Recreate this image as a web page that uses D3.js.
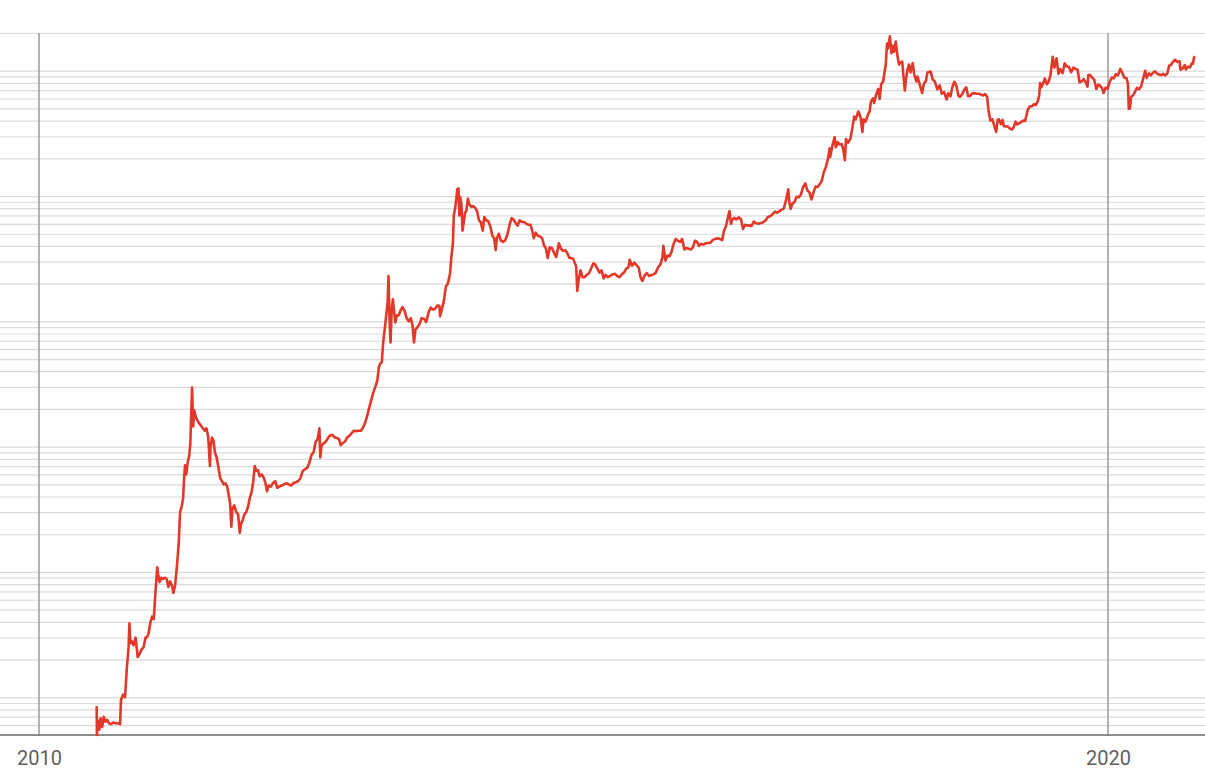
<!DOCTYPE html>
<html>
<head>
<meta charset="utf-8">
<script src="https://cdn.jsdelivr.net/npm/d3@7"></script>
<style>
  html, body { margin: 0; padding: 0; background: #fff; }
  #chart { width: 1205px; height: 782px; }
</style>
</head>
<body>
<div id="chart"></div>
<script>
// Closing price (USD), [date, price]
const prices2010 = [
  ["2010-07-17",0.085],["2010-07-18",0.05],["2010-07-22",0.065],["2010-07-26",0.055],["2010-07-30",0.068],
  ["2010-08-05",0.058],["2010-08-10",0.07],["2010-08-16",0.064],["2010-08-22",0.066],["2010-08-28",0.062],
  ["2010-09-04",0.061],["2010-09-12",0.063],["2010-09-20",0.062],["2010-09-28",0.062],["2010-10-05",0.061],
  ["2010-10-08",0.095],["2010-10-15",0.105],["2010-10-22",0.1],["2010-10-28",0.17],["2010-11-03",0.25],
  ["2010-11-06",0.39],["2010-11-09",0.27],["2010-11-14",0.28],["2010-11-20",0.26],["2010-11-27",0.3],
  ["2010-12-04",0.21],["2010-12-10",0.22],["2010-12-17",0.24],["2010-12-24",0.25],["2010-12-31",0.3]
];
const prices2011 = [
  ["2011-01-04",0.30],["2011-01-10",0.32],["2011-01-16",0.39],["2011-01-22",0.44],["2011-01-28",0.42],
  ["2011-02-03",0.70],["2011-02-09",1.09],["2011-02-12",0.95],["2011-02-17",0.83],["2011-02-23",0.90],
  ["2011-03-01",0.88],["2011-03-07",0.90],["2011-03-13",0.88],["2011-03-19",0.76],["2011-03-25",0.84],
  ["2011-04-01",0.77],["2011-04-05",0.68],["2011-04-11",0.78],["2011-04-17",1.10],["2011-04-23",1.65],
  ["2011-04-28",3.0],["2011-05-03",3.3],["2011-05-08",3.8],["2011-05-12",5.8],["2011-05-15",7.1],
  ["2011-05-19",6.0],["2011-05-24",7.5],["2011-05-29",8.4],["2011-06-02",10.6],["2011-06-05",18.5],
  ["2011-06-08",29.6],["2011-06-10",20],["2011-06-12",14.5],["2011-06-15",19.5],["2011-06-20",17.5],
  ["2011-06-26",16.2],["2011-07-02",15.4],["2011-07-09",14.6],["2011-07-16",13.9],["2011-07-21",13.4],
  ["2011-07-27",14.0],["2011-08-02",12.0],["2011-08-08",7.0],["2011-08-10",10.0],["2011-08-15",11.8],
  ["2011-08-20",11.2],["2011-08-25",9.0],["2011-08-31",8.2],["2011-09-06",6.8],["2011-09-12",5.6],
  ["2011-09-18",5.3],["2011-09-24",5.0],["2011-09-30",5.1],["2011-10-06",4.8],["2011-10-12",4.0],
  ["2011-10-16",3.5],["2011-10-20",2.3],["2011-10-24",3.2],["2011-10-30",3.4],["2011-11-06",3.0],
  ["2011-11-12",2.9],["2011-11-18",2.05],["2011-11-22",2.4],["2011-11-28",2.6],["2011-12-04",2.9],
  ["2011-12-10",3.0],["2011-12-16",3.3],["2011-12-22",3.9],["2011-12-28",4.3]
];
const prices2012 = [
  ["2012-01-03",5.3],["2012-01-08",7.0],["2012-01-13",6.4],["2012-01-19",6.5],["2012-01-25",5.8],
  ["2012-02-01",6.0],["2012-02-07",5.7],["2012-02-13",5.2],["2012-02-19",4.4],["2012-02-25",4.9],
  ["2012-03-03",4.8],["2012-03-10",5.1],["2012-03-18",5.3],["2012-03-25",4.7],["2012-04-01",4.8],
  ["2012-04-09",4.9],["2012-04-17",5.0],["2012-04-25",5.1],["2012-05-03",5.0],["2012-05-11",4.9],
  ["2012-05-19",5.1],["2012-05-27",5.2],["2012-06-04",5.3],["2012-06-12",5.6],["2012-06-20",6.4],
  ["2012-06-28",6.6],["2012-07-06",6.8],["2012-07-14",7.6],["2012-07-20",8.6],["2012-07-27",9.0],
  ["2012-08-03",10.9],["2012-08-10",11.5],["2012-08-16",14.0],["2012-08-19",8.2],["2012-08-23",10.2],
  ["2012-08-30",10.6],["2012-09-07",11.0],["2012-09-15",11.8],["2012-09-22",12.3],["2012-09-29",12.4],
  ["2012-10-07",11.9],["2012-10-15",11.7],["2012-10-22",11.5],["2012-10-28",10.3],["2012-11-04",10.7],
  ["2012-11-12",11.0],["2012-11-18",11.8],["2012-11-26",12.2],["2012-12-04",12.8],["2012-12-12",13.4],
  ["2012-12-20",13.3],["2012-12-28",13.4]
];
const prices2013 = [
  ["2013-01-05",13.4],["2013-01-12",14.2],["2013-01-19",15.5],["2013-01-26",17.5],["2013-02-02",20.4],
  ["2013-02-09",23.5],["2013-02-16",27],["2013-02-23",30],["2013-03-02",34],["2013-03-07",43],
  ["2013-03-12",46],["2013-03-17",47],["2013-03-22",69],["2013-03-28",90],["2013-04-02",117],
  ["2013-04-06",143],["2013-04-09",230],["2013-04-12",110],["2013-04-16",68],["2013-04-20",127],
  ["2013-04-24",150],["2013-04-27",128],["2013-05-02",98],["2013-05-08",112],["2013-05-14",112],
  ["2013-05-20",122],["2013-05-27",130],["2013-06-03",121],["2013-06-10",106],["2013-06-17",100],
  ["2013-06-24",106],["2013-06-30",93],["2013-07-05",68],["2013-07-10",86],["2013-07-17",90],
  ["2013-07-24",95],["2013-07-31",106],["2013-08-08",105],["2013-08-16",99],["2013-08-24",118],
  ["2013-08-31",129],["2013-09-07",124],["2013-09-15",126],["2013-09-23",134],["2013-09-30",133],
  ["2013-10-02",110],["2013-10-08",124],["2013-10-15",145],["2013-10-22",190],["2013-10-29",200],
  ["2013-11-05",240],["2013-11-10",330],["2013-11-15",420],["2013-11-18",700],["2013-11-22",780],
  ["2013-11-26",920],["2013-11-30",1130],["2013-12-04",1150],["2013-12-07",700],["2013-12-10",980],
  ["2013-12-14",870],["2013-12-18",530],["2013-12-22",620],["2013-12-27",740],["2013-12-31",760]
];
const prices2014 = [
  ["2014-01-05",950],["2014-01-10",860],["2014-01-17",820],["2014-01-24",830],["2014-01-31",800],
  ["2014-02-06",750],["2014-02-12",640],["2014-02-18",620],["2014-02-25",530],["2014-03-02",680],
  ["2014-03-09",640],["2014-03-16",630],["2014-03-23",570],["2014-03-30",480],["2014-04-05",460],
  ["2014-04-10",370],["2014-04-14",460],["2014-04-21",500],["2014-04-28",440],["2014-05-05",430],
  ["2014-05-12",440],["2014-05-20",490],["2014-05-27",580],["2014-06-03",665],["2014-06-10",650],
  ["2014-06-17",610],["2014-06-24",580],["2014-07-01",640],["2014-07-08",620],["2014-07-16",620],
  ["2014-07-24",600],["2014-07-31",590],["2014-08-07",590],["2014-08-14",520],["2014-08-18",460],
  ["2014-08-25",510],["2014-09-02",480],["2014-09-09",475],["2014-09-16",460],["2014-09-22",405],
  ["2014-09-29",380],["2014-10-05",320],["2014-10-12",390],["2014-10-19",385],["2014-10-26",355],
  ["2014-11-03",325],["2014-11-12",420],["2014-11-19",380],["2014-11-26",365],["2014-12-04",370],
  ["2014-12-11",350],["2014-12-18",320],["2014-12-25",320],["2014-12-31",315]
];
const prices2015 = [
  ["2015-01-06",290],["2015-01-10",275],["2015-01-14",175],["2015-01-18",210],["2015-01-25",255],
  ["2015-02-01",225],["2015-02-08",225],["2015-02-15",235],["2015-02-22",240],["2015-03-01",260],
  ["2015-03-10",290],["2015-03-16",285],["2015-03-23",265],["2015-03-31",245],["2015-04-07",255],
  ["2015-04-14",220],["2015-04-21",235],["2015-04-28",225],["2015-05-06",230],["2015-05-14",237],
  ["2015-05-22",240],["2015-05-30",230],["2015-06-07",225],["2015-06-15",237],["2015-06-23",245],
  ["2015-06-30",263],["2015-07-08",270],["2015-07-12",310],["2015-07-20",278],["2015-07-28",294],
  ["2015-08-05",280],["2015-08-12",266],["2015-08-18",225],["2015-08-24",210],["2015-08-31",230],
  ["2015-09-08",243],["2015-09-16",230],["2015-09-24",234],["2015-10-01",237],["2015-10-09",244],
  ["2015-10-17",270],["2015-10-25",285],["2015-11-01",325],["2015-11-04",400],["2015-11-11",305],
  ["2015-11-18",335],["2015-11-25",330],["2015-12-02",360],["2015-12-09",415],["2015-12-16",455],
  ["2015-12-23",440],["2015-12-31",430]
];
const prices2016 = [
  ["2016-01-07",455],["2016-01-15",375],["2016-01-22",385],["2016-01-29",380],["2016-02-06",375],
  ["2016-02-13",390],["2016-02-20",440],["2016-02-27",430],["2016-03-05",400],["2016-03-12",415],
  ["2016-03-20",410],["2016-03-28",420],["2016-04-05",422],["2016-04-13",425],["2016-04-21",447],
  ["2016-04-29",455],["2016-05-07",460],["2016-05-15",455],["2016-05-23",445],["2016-05-29",525],
  ["2016-06-05",575],["2016-06-12",680],["2016-06-17",760],["2016-06-22",600],["2016-06-27",650],
  ["2016-07-04",670],["2016-07-10",650],["2016-07-18",675],["2016-07-26",655],["2016-08-02",545],
  ["2016-08-09",590],["2016-08-16",580],["2016-08-23",585],["2016-08-31",575],["2016-09-08",625],
  ["2016-09-16",607],["2016-09-24",602],["2016-10-02",610],["2016-10-10",618],["2016-10-18",638],
  ["2016-10-26",680],["2016-11-03",690],["2016-11-11",715],["2016-11-19",750],["2016-11-27",735],
  ["2016-12-05",760],["2016-12-13",780],["2016-12-20",800],["2016-12-27",930]
];
const prices2017 = [
  ["2017-01-04",1130],["2017-01-07",895],["2017-01-12",790],["2017-01-18",870],["2017-01-25",895],
  ["2017-02-01",985],["2017-02-09",980],["2017-02-16",1030],["2017-02-23",1170],["2017-03-03",1260],
  ["2017-03-10",1110],["2017-03-17",1070],["2017-03-24",940],["2017-03-31",1070],["2017-04-07",1190],
  ["2017-04-14",1180],["2017-04-21",1240],["2017-04-28",1320],["2017-05-05",1550],["2017-05-12",1700],
  ["2017-05-19",1960],["2017-05-25",2400],["2017-05-27",2050],["2017-06-03",2500],["2017-06-11",2950],
  ["2017-06-15",2450],["2017-06-21",2700],["2017-06-28",2580],["2017-07-05",2600],["2017-07-10",2400],
  ["2017-07-16",1930],["2017-07-20",2850],["2017-07-27",2670],["2017-08-04",2860],["2017-08-10",3420],
  ["2017-08-17",4300],["2017-08-22",4090],["2017-08-31",4730],["2017-09-03",4580],["2017-09-08",4230],
  ["2017-09-14",3240],["2017-09-18",4100],["2017-09-25",3930],["2017-10-02",4400],["2017-10-09",4780],
  ["2017-10-13",5650],["2017-10-20",6010],["2017-10-24",5520],["2017-10-31",6450],["2017-11-07",7140],
  ["2017-11-12",5950],["2017-11-17",7790],["2017-11-24",8250],["2017-11-29",9890],["2017-12-03",11300],
  ["2017-12-07",16500],["2017-12-10",15000],["2017-12-17",18800],["2017-12-22",13800],["2017-12-27",15800],
  ["2017-12-31",14150]
];
const prices2018 = [
  ["2018-01-06",17100],["2018-01-11",13400],["2018-01-17",11200],["2018-01-21",11600],["2018-01-28",11800],
  ["2018-02-01",9200],["2018-02-06",6950],["2018-02-10",8600],["2018-02-15",10200],["2018-02-20",11200],
  ["2018-02-25",9700],["2018-03-05",11500],["2018-03-10",9300],["2018-03-18",8200],["2018-03-21",9000],
  ["2018-03-28",7900],["2018-04-06",6640],["2018-04-12",7900],["2018-04-19",8250],["2018-04-24",9660],
  ["2018-05-05",9850],["2018-05-12",8500],["2018-05-19",8250],["2018-05-28",7100],["2018-06-05",7630],
  ["2018-06-12",6550],["2018-06-20",6750],["2018-06-29",5900],["2018-07-04",6600],["2018-07-12",6250],
  ["2018-07-18",7370],["2018-07-25",8170],["2018-08-01",7600],["2018-08-08",6300],["2018-08-14",6200],
  ["2018-08-21",6500],["2018-08-28",7050],["2018-09-04",7350],["2018-09-10",6250],["2018-09-17",6300],
  ["2018-09-24",6600],["2018-10-01",6600],["2018-10-10",6550],["2018-10-17",6550],["2018-10-24",6450],
  ["2018-10-31",6350],["2018-11-07",6500],["2018-11-14",6200],["2018-11-19",4800],["2018-11-25",4000],
  ["2018-12-02",4100],["2018-12-09",3600],["2018-12-15",3250],["2018-12-20",4050],["2018-12-24",4100],
  ["2018-12-31",3750]
];
const prices2019 = [
  ["2019-01-06",4050],["2019-01-10",3600],["2019-01-17",3600],["2019-01-24",3580],["2019-01-31",3450],
  ["2019-02-07",3400],["2019-02-14",3590],["2019-02-19",3920],["2019-02-24",3730],["2019-03-03",3800],
  ["2019-03-10",3900],["2019-03-17",4000],["2019-03-24",3980],["2019-04-02",4880],["2019-04-09",5200],
  ["2019-04-16",5200],["2019-04-23",5400],["2019-04-30",5320],["2019-05-07",5800],["2019-05-11",6350],
  ["2019-05-14",7990],["2019-05-17",7360],["2019-05-22",7650],["2019-05-30",8660],["2019-06-06",7800],
  ["2019-06-12",8160],["2019-06-18",9080],["2019-06-22",10700],["2019-06-26",12930],["2019-07-02",10580],
  ["2019-07-09",12560],["2019-07-16",9430],["2019-07-22",10300],["2019-07-30",9580],["2019-08-06",11460],
  ["2019-08-13",10800],["2019-08-20",10760],["2019-08-28",9720],["2019-09-05",10600],["2019-09-12",10350],
  ["2019-09-19",10200],["2019-09-26",8060],["2019-10-03",8230],["2019-10-10",8580],["2019-10-17",8070],
  ["2019-10-23",7460],["2019-10-26",9250],["2019-11-01",9260],["2019-11-08",8800],["2019-11-15",8470],
  ["2019-11-22",7150],["2019-11-29",7740],["2019-12-06",7550],["2019-12-12",7200],["2019-12-17",6640],
  ["2019-12-24",7320],["2019-12-31",7190]
];
const prices2020 = [
  ["2020-01-07",8160],["2020-01-14",8830],["2020-01-21",8680],["2020-01-28",9390],["2020-02-04",9180],
  ["2020-02-12",10330],["2020-02-19",9600],["2020-02-26",8780],["2020-03-04",8760],["2020-03-09",7900],
  ["2020-03-12",4970],["2020-03-16",5000],["2020-03-20",6190],["2020-03-27",6370],["2020-04-02",6790],
  ["2020-04-09",7300],["2020-04-16",7110],["2020-04-23",7480],["2020-04-30",8660],["2020-05-07",9980],
  ["2020-05-12",8800],["2020-05-20",9520],["2020-05-27",9190],["2020-06-03",9670],["2020-06-10",9890],
  ["2020-06-17",9460],["2020-06-24",9310],["2020-07-01",9230],["2020-07-08",9430],["2020-07-15",9190],
  ["2020-07-22",9540],["2020-07-28",10990],["2020-08-02",11060],["2020-08-09",11680],["2020-08-17",12250],
  ["2020-08-24",11760],["2020-09-01",11920],["2020-09-05",10170],["2020-09-12",10450],["2020-09-19",11080],
  ["2020-09-23",10230],["2020-09-30",10790],["2020-10-07",10600],["2020-10-13",11430],["2020-10-17",11360],
  ["2020-10-21",12820],["2020-10-24",13030]
];

// axis labels / extents
const yearTicks = ["2010-01-01", "2020-01-01"];
const yExtent = [0.05, 20000];
const gridDecades = [0.01, 0.1, 1, 10, 100, 1000, 10000];


class PriceChart {

  constructor(divId) {
    this.width = 1205;
    this.height = 782;
    this.top = 33;
    this.bottom = 735;
    this.divId = divId;

    this.svg = d3
      .select(this.divId)
      .append("svg")
      .attr("width", this.width)
      .attr("height", this.height);
  }

  draw(series) {
    const parse = d3.timeParse("%Y-%m-%d");

    // SCALES =======================================
    // 2010 sits at x=39, 2020 at x=1108; the scale runs past both sides
    const xScale = d3.scaleTime()
      .domain(yearTicks.map(parse))
      .range([39, 1108]);

    const yScale = d3.scaleLog()
      .domain(yExtent)
      .range([this.bottom, this.top]);

    // GRID =========================================
    const gridVals = [];
    gridDecades.forEach(d => {
      for (let k = 1; k <= 9; k++) {
        const v = d * k;
        if (v >= yExtent[0] - 1e-9 && v <= yExtent[1] + 1e-9) gridVals.push(v);
      }
    });

    const grid = this.svg.append("g")
      .attr("class", "grid")
      .call(d3.axisLeft(yScale)
        .tickValues(gridVals)
        .tickSize(-this.width)
        .tickFormat(""));

    grid.select(".domain").remove();
    grid.selectAll("line")
      .attr("stroke", "#dadada")
      .attr("stroke-width", 1.2);

    // year lines
    this.svg.append("g")
      .selectAll("line")
      .data(yearTicks.map(parse))
      .join("line")
      .attr("x1", d => xScale(d))
      .attr("x2", d => xScale(d))
      .attr("y1", this.top)
      .attr("y2", this.bottom)
      .attr("stroke", "#9a9a9a")
      .attr("stroke-width", 1.5);

    // X AXIS =======================================
    const xAxis = this.svg.append("g")
      .attr("transform", `translate(0, ${this.bottom})`)
      .call(d3.axisBottom(xScale)
        .tickValues(yearTicks.map(parse))
        .tickSize(0)
        .tickPadding(16)
        .tickFormat(d3.timeFormat("%Y")));

    xAxis.select(".domain").remove();
    xAxis.selectAll("text")
      .style("font-family", "Roboto, sans-serif")
      .style("font-size", "20px")
      .attr("fill", "#5f5f5f");

    this.svg.append("line")
      .attr("x1", 0)
      .attr("x2", this.width)
      .attr("y1", this.bottom)
      .attr("y2", this.bottom)
      .attr("stroke", "#6e6e6e")
      .attr("stroke-width", 1.6);

    // PRICE LINE ===================================
    const line = d3.line()
      .x(d => xScale(parse(d[0])))
      .y(d => yScale(d[1]));

    this.svg.append("path")
      .datum(series)
      .attr("d", line)
      .attr("fill", "none")
      .attr("stroke", "#e2382a")
      .attr("stroke-width", 2.6)
      .attr("stroke-linejoin", "round");
  }
}

const chart = new PriceChart("#chart");
chart.draw([].concat(
  prices2010, prices2011, prices2012, prices2013, prices2014, prices2015,
  prices2016, prices2017, prices2018, prices2019, prices2020
));
</script>
</body>
</html>
